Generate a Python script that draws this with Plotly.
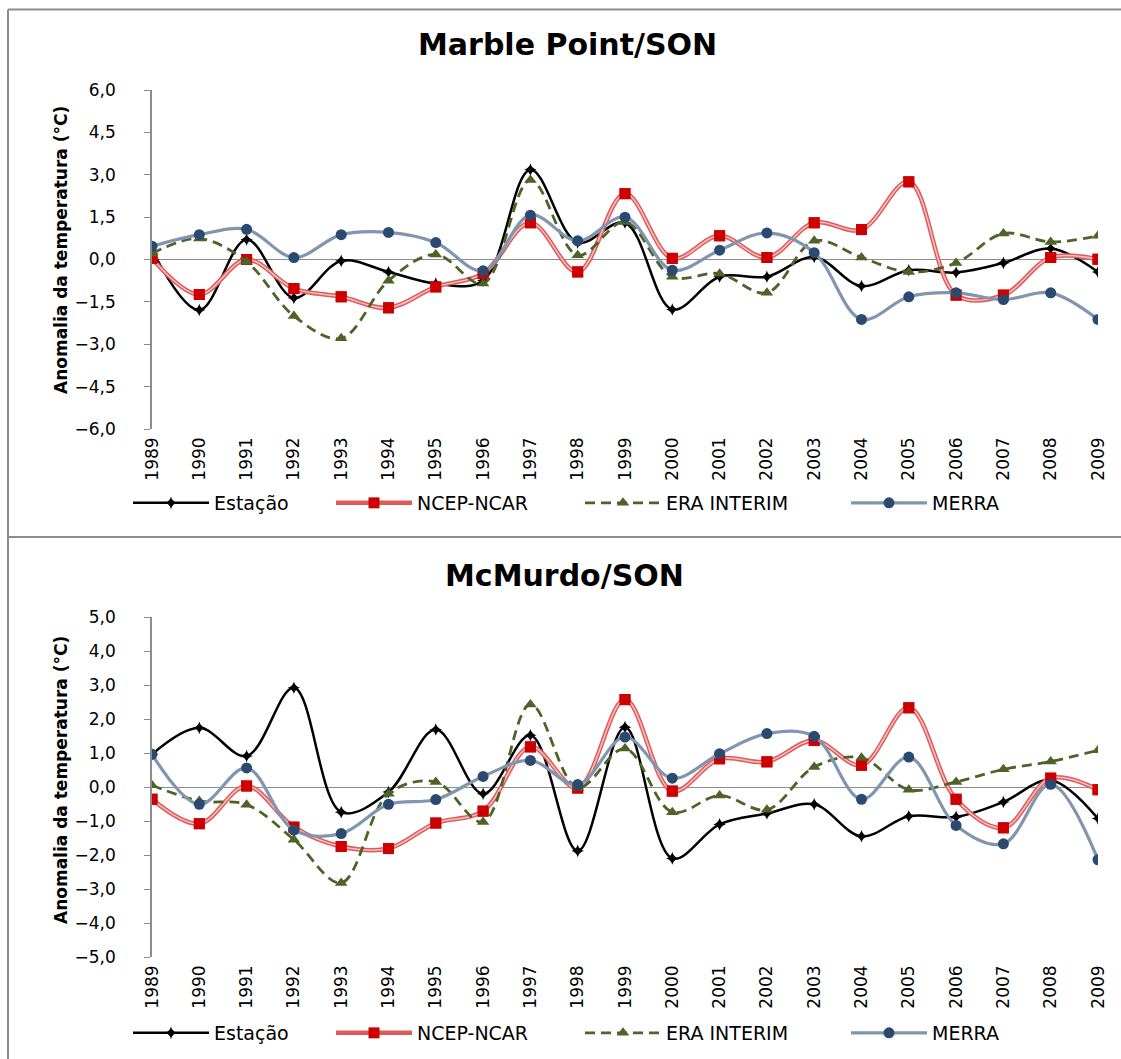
import plotly.graph_objects as go

# anos e séries de anomalias (°C)
anos = list(range(1989, 2010))

# Marble Point / SON
mp_estacao = [0.33, -1.79, 0.71, -1.36, -0.05, -0.44, -0.85, -0.75, 3.18, 0.6, 1.3,
              -1.77, -0.61, -0.61, 0.09, -0.94, -0.38, -0.46, -0.12, 0.39, -0.44]
mp_ncep = [0.04, -1.24, 0.0, -1.03, -1.32, -1.71, -0.97, -0.5, 1.3, -0.44, 2.33,
           0.04, 0.84, 0.07, 1.3, 1.06, 2.75, -1.26, -1.26, 0.07, 0.01]
mp_era = [0.21, 0.74, -0.08, -2.0, -2.79, -0.75, 0.18, -0.85, 2.81, 0.15, 1.33,
          -0.61, -0.5, -1.18, 0.66, 0.07, -0.44, -0.12, 0.92, 0.62, 0.84]
mp_merra = [0.47, 0.88, 1.07, 0.07, 0.88, 0.96, 0.6, -0.4, 1.57, 0.66, 1.5,
            -0.38, 0.33, 0.94, 0.24, -2.12, -1.32, -1.18, -1.42, -1.18, -2.12]

# McMurdo / SON
mc_estacao = [0.96, 1.74, 0.91, 2.92, -0.74, -0.15, 1.69, -0.2, 1.52, -1.88, 1.76,
              -2.1, -1.1, -0.78, -0.51, -1.45, -0.86, -0.88, -0.44, 0.2, -0.93]
mc_ncep = [-0.36, -1.08, 0.03, -1.18, -1.75, -1.81, -1.06, -0.71, 1.18, -0.03, 2.57,
           -0.12, 0.83, 0.74, 1.37, 0.64, 2.33, -0.36, -1.2, 0.26, -0.08]
mc_era = [0.05, -0.41, -0.52, -1.55, -2.82, -0.2, 0.15, -1.03, 2.43, -0.02, 1.13,
          -0.74, -0.25, -0.67, 0.59, 0.86, -0.08, 0.15, 0.52, 0.75, 1.08]
mc_merra = [0.96, -0.51, 0.56, -1.27, -1.37, -0.51, -0.37, 0.31, 0.78, 0.07, 1.47,
            0.26, 0.98, 1.57, 1.49, -0.36, 0.88, -1.13, -1.67, 0.08, -2.14]

FONTE = "DejaVu Sans"
W, H = 1121, 1059


def py(px):
    # pixel vertical (a partir do topo) -> fração do papel
    return 1 - px / H


def add_series(fig, xa, ya, leg, est, ncep, era, merra):
    # legendwidth por série para espaçar a legenda como no original
    fig.add_trace(go.Scatter(
        x=anos, y=est, name="Estação", xaxis=xa, yaxis=ya, legend=leg,
        legendwidth=112,
        mode="lines+markers", line=dict(color="black", width=2.5, shape="spline"),
        marker=dict(symbol="star-diamond", size=9, color="black")))
    fig.add_trace(go.Scatter(
        x=anos, y=ncep, name="NCEP-NCAR", xaxis=xa, yaxis=ya, legend=leg,
        legendwidth=158,
        mode="lines+markers", line=dict(color="#e05a5a", width=4.5, shape="spline"),
        marker=dict(symbol="square", size=11, color="#cc0000")))
    # faixa clara no meio da linha vermelha (efeito de linha dupla)
    fig.add_trace(go.Scatter(
        x=anos, y=ncep, xaxis=xa, yaxis=ya, showlegend=False, hoverinfo="skip",
        mode="lines", line=dict(color="#f7c4c4", width=1.5, shape="spline")))
    fig.add_trace(go.Scatter(
        x=anos, y=ncep, xaxis=xa, yaxis=ya, showlegend=False, hoverinfo="skip",
        mode="markers", marker=dict(symbol="square", size=11, color="#cc0000")))
    fig.add_trace(go.Scatter(
        x=anos, y=era, name="ERA INTERIM", xaxis=xa, yaxis=ya, legend=leg,
        legendwidth=175,
        mode="lines+markers",
        line=dict(color="#4f6228", width=2.8, dash="10px,6px", shape="spline"),
        marker=dict(symbol="triangle-up", size=11, color="#4f6228")))
    fig.add_trace(go.Scatter(
        x=anos, y=merra, name="MERRA", xaxis=xa, yaxis=ya, legend=leg,
        legendwidth=90,
        mode="lines+markers", line=dict(color="#8095b0", width=3.2, shape="spline"),
        marker=dict(symbol="circle", size=11, color="#2a4a70")))


fig = go.Figure()
add_series(fig, "x", "y", "legend", mp_estacao, mp_ncep, mp_era, mp_merra)
add_series(fig, "x2", "y2", "legend2", mc_estacao, mc_ncep, mc_era, mc_merra)

xdom = [152 / W, 1098 / W]
eixo_x = dict(range=[1989, 2009], tickmode="array", tickvals=anos,
              ticktext=[str(a) for a in anos], tickangle=-90, showline=False,
              showgrid=False, zeroline=False, ticks="", automargin=False,
              ticklabelstandoff=4,
              tickfont=dict(family=FONTE, size=17, color="black"))
eixo_y = dict(showgrid=False, zeroline=True, zerolinecolor="#8c8c8c", zerolinewidth=1,
              showline=True, linecolor="#8c8c8c", linewidth=1.5, ticks="outside",
              ticklen=6, tickcolor="#8c8c8c", tickformat=".1f", automargin=False,
              ticklabelstandoff=25,
              tickfont=dict(family=FONTE, size=17, color="black"))

leg_base = dict(orientation="h", xref="container", yref="container",
                xanchor="left", yanchor="middle", itemwidth=76,
                traceorder="normal", bgcolor="rgba(0,0,0,0)",
                font=dict(family=FONTE, size=19, color="black"))

titulo_y = "<b>Anomalia da temperatura (°C)</b>"
fonte_titulo = dict(family=FONTE, size=30, color="black")
fonte_eixo = dict(family=FONTE, size=17, color="black")

fig.update_layout(
    width=W, height=H,
    margin=dict(l=0, r=0, t=0, b=0, autoexpand=False),
    paper_bgcolor="white", plot_bgcolor="white",
    separators=",.",
    showlegend=True,
    xaxis=dict(eixo_x, domain=xdom, anchor="y"),
    yaxis=dict(eixo_y, domain=[py(429), py(90)], range=[-6, 6], dtick=1.5,
               tick0=0, anchor="x"),
    xaxis2=dict(eixo_x, domain=xdom, anchor="y2"),
    yaxis2=dict(eixo_y, domain=[py(957), py(617)], range=[-5, 5], dtick=1,
                tick0=0, anchor="x2"),
    legend=dict(leg_base, x=128 / W, y=py(503)),
    legend2=dict(leg_base, x=128 / W, y=py(1033)),
    annotations=[
        dict(text="<b>Marble Point/SON</b>", x=567 / W, y=py(45), xref="paper",
             yref="paper", showarrow=False, xanchor="center", yanchor="middle",
             font=fonte_titulo),
        dict(text="<b>McMurdo/SON</b>", x=564 / W, y=py(575), xref="paper",
             yref="paper", showarrow=False, xanchor="center", yanchor="middle",
             font=fonte_titulo),
        dict(text=titulo_y, x=61 / W, y=py(250), xref="paper", yref="paper",
             showarrow=False, textangle=-90, xanchor="center", yanchor="middle",
             font=fonte_eixo),
        dict(text=titulo_y, x=61 / W, y=py(780), xref="paper", yref="paper",
             showarrow=False, textangle=-90, xanchor="center", yanchor="middle",
             font=fonte_eixo),
    ],
    shapes=[
        dict(type="line", xref="paper", yref="paper", x0=8 / W, x1=1, y0=py(9.5),
             y1=py(9.5), line=dict(color="#8c8c8c", width=2)),
        dict(type="line", xref="paper", yref="paper", x0=8 / W, x1=8 / W, y0=py(9.5),
             y1=0, line=dict(color="#8c8c8c", width=2)),
        dict(type="line", xref="paper", yref="paper", x0=8 / W, x1=1, y0=py(537),
             y1=py(537), line=dict(color="#8c8c8c", width=2)),
    ],
)

# tira a margem padrão do <body> para a figura ficar colada ao canto da página
fig.write_html("out.html", config={"displayModeBar": False},
               post_script="document.body.style.margin='0px';")
